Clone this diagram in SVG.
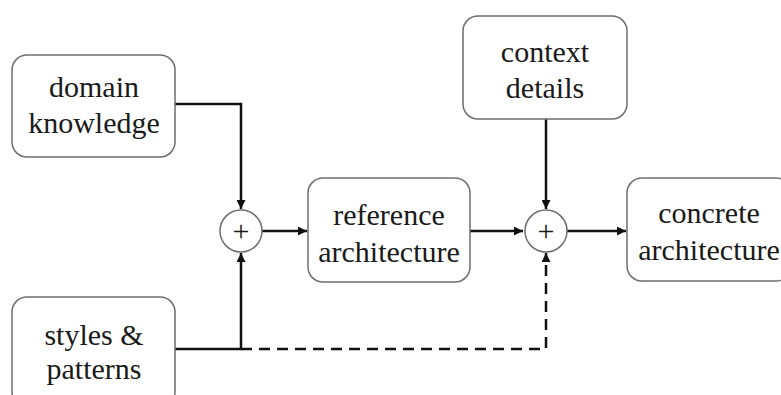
<svg xmlns="http://www.w3.org/2000/svg" width="781" height="395" viewBox="0 0 781 395">
<style>
.box{fill:#fff;stroke:#6e6e6e;stroke-width:1.5}
.t{font-family:"Liberation Serif","Times New Roman",serif;font-size:30px;fill:#1a1a1a;text-anchor:middle}
.c{fill:none;stroke:#111;stroke-width:2.5}
.d{stroke-dasharray:11 7}
.sum{fill:#fff;stroke:#6e6e6e;stroke-width:1.5}
</style>
<defs>
<marker id="ah" viewBox="0 0 10 10" refX="10" refY="5" markerWidth="4" markerHeight="3.6" orient="auto" markerUnits="strokeWidth">
<path d="M0,0 L10,5 L0,10 z" fill="#111"/>
</marker>
</defs>
<rect width="781" height="395" fill="#fff"/>
<g id="connectors">
<path class="c" d="M175,104 H241 V209" marker-end="url(#ah)"/>
<path class="c" d="M175,349 H241 V253" marker-end="url(#ah)"/>
<path class="c" d="M262,231 H307" marker-end="url(#ah)"/>
<path class="c" d="M470,231 H523" marker-end="url(#ah)"/>
<path class="c" d="M546,119 V209" marker-end="url(#ah)"/>
<path class="c" d="M567,231 H626" marker-end="url(#ah)"/>
<path class="c d" d="M241,349 H546 V253" marker-end="url(#ah)"/>
</g>
<g id="domain">
<rect class="box" x="12" y="55" width="163" height="102" rx="15"/>
<text class="t" x="94" y="97">domain</text>
<text class="t" x="94" y="133">knowledge</text>
</g>
<g id="styles">
<rect class="box" x="12" y="297" width="163" height="110" rx="15"/>
<text class="t" x="94" y="345">styles &amp;</text>
<text class="t" x="94" y="379">patterns</text>
</g>
<g id="sum1">
<circle class="sum" cx="241" cy="231" r="21"/>
<text class="t" x="241" y="241">+</text>
</g>
<g id="reference">
<rect class="box" x="308" y="178" width="162" height="104" rx="15"/>
<text class="t" x="389" y="225">reference</text>
<text class="t" x="389" y="262">architecture</text>
</g>
<g id="context">
<rect class="box" x="463" y="16" width="164" height="103" rx="15"/>
<text class="t" x="545" y="62">context</text>
<text class="t" x="545" y="98">details</text>
</g>
<g id="sum2">
<circle class="sum" cx="546" cy="231" r="21"/>
<text class="t" x="546" y="241">+</text>
</g>
<g id="concrete">
<rect class="box" x="627" y="178" width="164" height="103" rx="15"/>
<text class="t" x="709" y="223">concrete</text>
<text class="t" x="709" y="260">architecture</text>
</g>
</svg>
